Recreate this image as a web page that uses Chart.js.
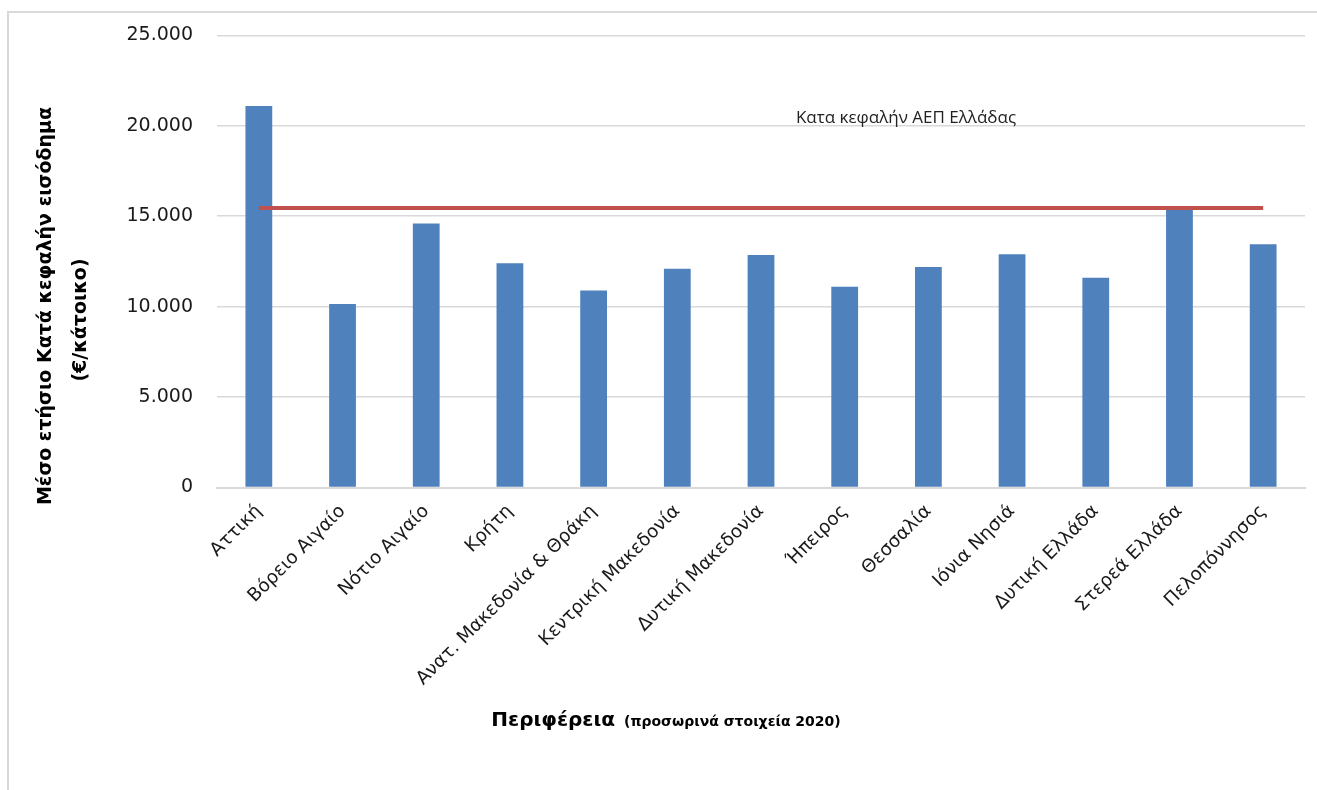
<!DOCTYPE html>
<html lang="el">
<head>
<meta charset="utf-8">
<title>Μέσο ετήσιο κατά κεφαλήν εισόδημα ανά Περιφέρεια</title>
<script src="https://cdn.jsdelivr.net/npm/chart.js@4.4.1/dist/chart.umd.min.js"></script>
<style>
    html, body { margin: 0; padding: 0; background: #fff; }
    body { width: 1317px; height: 790px; position: relative; overflow: hidden; }
    #frame {
        position: absolute; left: 7px; top: 11px; width: 1320px; height: 790px;
        border-left: 2px solid #d9d9d9; border-top: 2px solid #d9d9d9;
        box-sizing: border-box;
    }
    #income-chart { position: absolute; left: 0; top: 0; }
</style>
</head>
<body>
<div id="frame"></div>
<canvas id="income-chart" width="1317" height="790"></canvas>
<script>
// Regions (categories)
const regions = [
    'Αττική', 'Βόρειο Αιγαίο', 'Νότιο Αιγαίο', 'Κρήτη',
    'Ανατ. Μακεδονία & Θράκη', 'Κεντρική Μακεδονία', 'Δυτική Μακεδονία',
    'Ήπειρος', 'Θεσσαλία', 'Ιόνια Νησιά', 'Δυτική Ελλάδα',
    'Στερεά Ελλάδα', 'Πελοπόννησος'
];

// Average yearly per-capita income (€/κάτοικο), provisional 2020
const incomePerCapita = [
    21100, 10150, 14600, 12400, 10900, 12100, 12850,
    11100, 12200, 12900, 11600, 15450, 13450
];

// National per-capita GDP reference level
const nationalGdpPerCapita = 15450;
const nationalLine = regions.map(() => nationalGdpPerCapita);

// Y axis ticks
const yTicks = [0, 5000, 10000, 15000, 20000, 25000];

const BAR_BLUE = '#4f81bd';
const LINE_RED = '#c0504d';
const GRID = '#d9d9d9';
const FONT = "'DejaVu Sans', sans-serif";

/**
 * Greek thousands separator: 25000 -> 25.000
 */
function formatGreek(value) {
    return String(value).replace(/\B(?=(\d{3})+(?!\d))/g, '.');
}

/**
 * Axis titles and the national line label
 */
const titlesPlugin = {
    id: 'titles',
    afterDraw(chart) {
        const ctx = chart.ctx;
        ctx.save();
        ctx.fillStyle = '#000';

        // y axis title, two rotated lines
        ctx.textAlign = 'center';
        ctx.textBaseline = 'middle';
        ctx.font = "bold 19px " + FONT;
        ctx.save();
        ctx.translate(46, 306);
        ctx.rotate(-Math.PI / 2);
        ctx.fillText('Μέσο ετήσιο Κατά κεφαλήν εισόδημα', 0, 0);
        ctx.restore();
        ctx.save();
        ctx.translate(81, 320);
        ctx.rotate(-Math.PI / 2);
        ctx.fillText('(€/κάτοικο)', 0, 0);
        ctx.restore();

        // x axis title, mixed sizes
        const main = 'Περιφέρεια';
        const note = '(προσωρινά στοιχεία 2020)';
        ctx.textAlign = 'left';
        ctx.textBaseline = 'alphabetic';
        ctx.font = "bold 20px " + FONT;
        const wMain = ctx.measureText(main).width;
        ctx.font = "bold 14px " + FONT;
        const wNote = ctx.measureText(note).width;
        const gap = 9;
        let x = 666 - (wMain + gap + wNote) / 2;
        ctx.font = "bold 20px " + FONT;
        ctx.fillText(main, x, 726);
        ctx.font = "bold 14px " + FONT;
        ctx.fillText(note, x + wMain + gap, 726);

        // label of the national line
        ctx.font = "17px 'Open Sans', sans-serif";
        ctx.fillStyle = '#222';
        ctx.textAlign = 'center';
        ctx.textBaseline = 'middle';
        ctx.fillText('Κατα κεφαλήν ΑΕΠ Ελλάδας', 906, 118);
        ctx.restore();
    }
};

const ctx = document.getElementById('income-chart');

new Chart(ctx, {
    type: 'bar',
    data: {
        labels: regions,
        datasets: [
            {
                type: 'line',
                label: 'Κατα κεφαλήν ΑΕΠ Ελλάδας',
                data: nationalLine,
                borderColor: LINE_RED,
                borderWidth: 4,
                pointRadius: 0,
                fill: false,
                order: 0
            },
            {
                type: 'bar',
                label: 'Μέσο ετήσιο κατά κεφαλήν εισόδημα',
                data: incomePerCapita,
                backgroundColor: BAR_BLUE,
                categoryPercentage: 1,
                barPercentage: 0.32,
                order: 1
            }
        ]
    },
    options: {
        responsive: false,
        animation: false,
        devicePixelRatio: 1,
        layout: { padding: { top: 35, right: 12, bottom: 0, left: 0 } },
        plugins: {
            legend: { display: false },
            tooltip: { enabled: false }
        },
        scales: {
            x: {
                offset: true,
                grid: { display: false, drawTicks: false },
                border: { color: GRID, width: 2 },
                ticks: {
                    autoSkip: false,
                    maxRotation: 45,
                    minRotation: 45,
                    padding: 13,
                    color: '#1a1a1a',
                    font: { family: FONT, size: 18.5 }
                },
                afterFit(scale) { scale.height = 302.5; }
            },
            y: {
                min: 0,
                max: 25000,
                afterBuildTicks(scale) {
                    scale.ticks = yTicks.map(v => ({ value: v }));
                },
                grid: { color: GRID, lineWidth: 1.5, drawTicks: false },
                border: { display: false },
                ticks: {
                    padding: 24,
                    color: '#1a1a1a',
                    font: { family: FONT, size: 19 },
                    callback: value => formatGreek(value)
                },
                afterFit(scale) { scale.width = 217; }
            }
        }
    },
    plugins: [titlesPlugin]
});
</script>
</body>
</html>
